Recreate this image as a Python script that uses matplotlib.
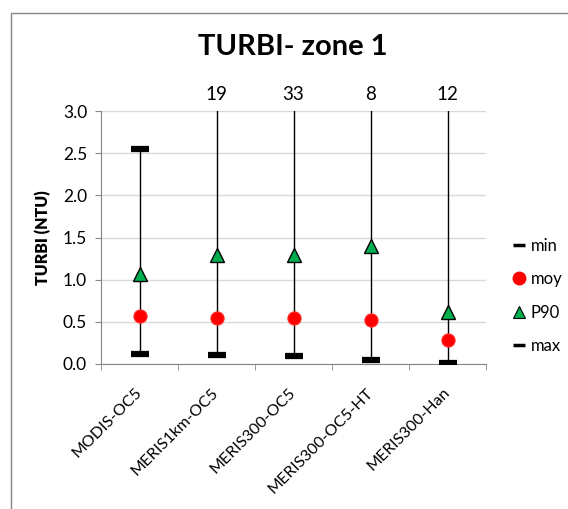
import numpy as np
import matplotlib
matplotlib.use("Agg")
import matplotlib.pyplot as plt
import matplotlib.transforms as mtrans
from matplotlib.lines import Line2D
from matplotlib.patches import Rectangle

plt.rcParams['font.family'] = ['Lato', 'DejaVu Sans']

categories = ['MODIS-OC5', 'MERIS1km-OC5', 'MERIS300-OC5', 'MERIS300-OC5-HT', 'MERIS300-Han']
min_vals = [0.12, 0.11, 0.10, 0.05, 0.01]
moy_vals = [0.57, 0.54, 0.54, 0.52, 0.28]
p90_vals = [1.07, 1.29, 1.29, 1.40, 0.62]
max_vals = [2.55, 19, 33, 8, 12]

ymax = 3.0
W, H = 568, 509

fig = plt.figure(figsize=(W / 100, H / 100), dpi=100)
ax = fig.add_axes([101 / W, 1 - 364 / H, 385 / W, 253 / H])

x = np.arange(len(categories))

# high-low lines
ax.vlines(x, min_vals, max_vals, color='black', lw=1, zorder=2)
ax.plot(x, min_vals, ls='none', marker='_', ms=13, mew=4.5, color='black', zorder=3)
ax.plot(x, max_vals, ls='none', marker='_', ms=13, mew=4.5, color='black', zorder=3)
ax.plot(x, moy_vals, ls='none', marker='o', ms=9.5, color='#FF0000',
        mec='#FF3030', mew=0.8, zorder=4)
ax.plot(x, p90_vals, ls='none', marker='^', ms=10, color='#00B050',
        mec='black', mew=1, zorder=4)

# labels for max values out of range
for xi, v in zip(x, max_vals):
    if v > ymax:
        ax.annotate(f"{v:g}", (xi, ymax), xytext=(0, 6), textcoords='offset points',
                    ha='center', va='bottom', fontsize=13.5, annotation_clip=False)

ax.set_xlim(-0.5, len(categories) - 0.5)
ax.set_ylim(0, ymax)
ax.set_yticks(np.arange(0, 3.01, 0.5))
ax.set_yticklabels([f"{t:.1f}" for t in np.arange(0, 3.01, 0.5)])
ax.yaxis.grid(True, color='#D9D9D9', lw=1)
ax.set_axisbelow(True)

ax.set_xticks(x)
ax.set_xticklabels(categories, rotation=45, ha='right', va='center',
                   rotation_mode='anchor', fontsize=11.5)
shift = mtrans.ScaledTranslation(4 / 100, 0, fig.dpi_scale_trans)
for lab in ax.get_xticklabels():
    lab.set_transform(lab.get_transform() + shift)
ax.set_xticks(np.arange(-0.5, len(categories)), minor=True)
ax.tick_params(axis='x', which='major', length=0, pad=19)
ax.tick_params(axis='x', which='minor', length=4, color='#868686')
ax.tick_params(axis='y', length=4, color='#868686', labelsize=12.5, pad=6)

for s in ['top', 'right']:
    ax.spines[s].set_visible(False)
for s in ['left', 'bottom']:
    ax.spines[s].set_color('#868686')

ax.set_ylabel('TURBI (NTU)', fontsize=11.5, fontweight='heavy')
ax.yaxis.set_label_coords(-50 / 385, 0.5)

fig.text(293 / W, 1 - 47 / H, 'TURBI- zone 1', ha='center', va='center',
         fontsize=21, fontweight='bold')

handles = [
    Line2D([], [], ls='none', marker='_', ms=9, mew=2.5, color='black'),
    Line2D([], [], ls='none', marker='o', ms=9, color='#FF0000'),
    Line2D([], [], ls='none', marker='^', ms=8, color='#00B050', mec='black', mew=0.8),
    Line2D([], [], ls='none', marker='_', ms=9, mew=2.5, color='black'),
]
fig.legend(handles, ['min', 'moy', 'P90', 'max'], loc='center left',
           bbox_to_anchor=(511 / W, 1 - 296 / H), frameon=False, fontsize=12,
           borderpad=0, borderaxespad=0,
           handlelength=1.0, handletextpad=0.2, labelspacing=1.05)

fig.patches.append(Rectangle((11 / W, -0.1), 1.2, 1 - 13 / H + 0.1,
                             transform=fig.transFigure, fill=False,
                             edgecolor='#868686', lw=1))

fig.savefig('out.png', dpi=100)
